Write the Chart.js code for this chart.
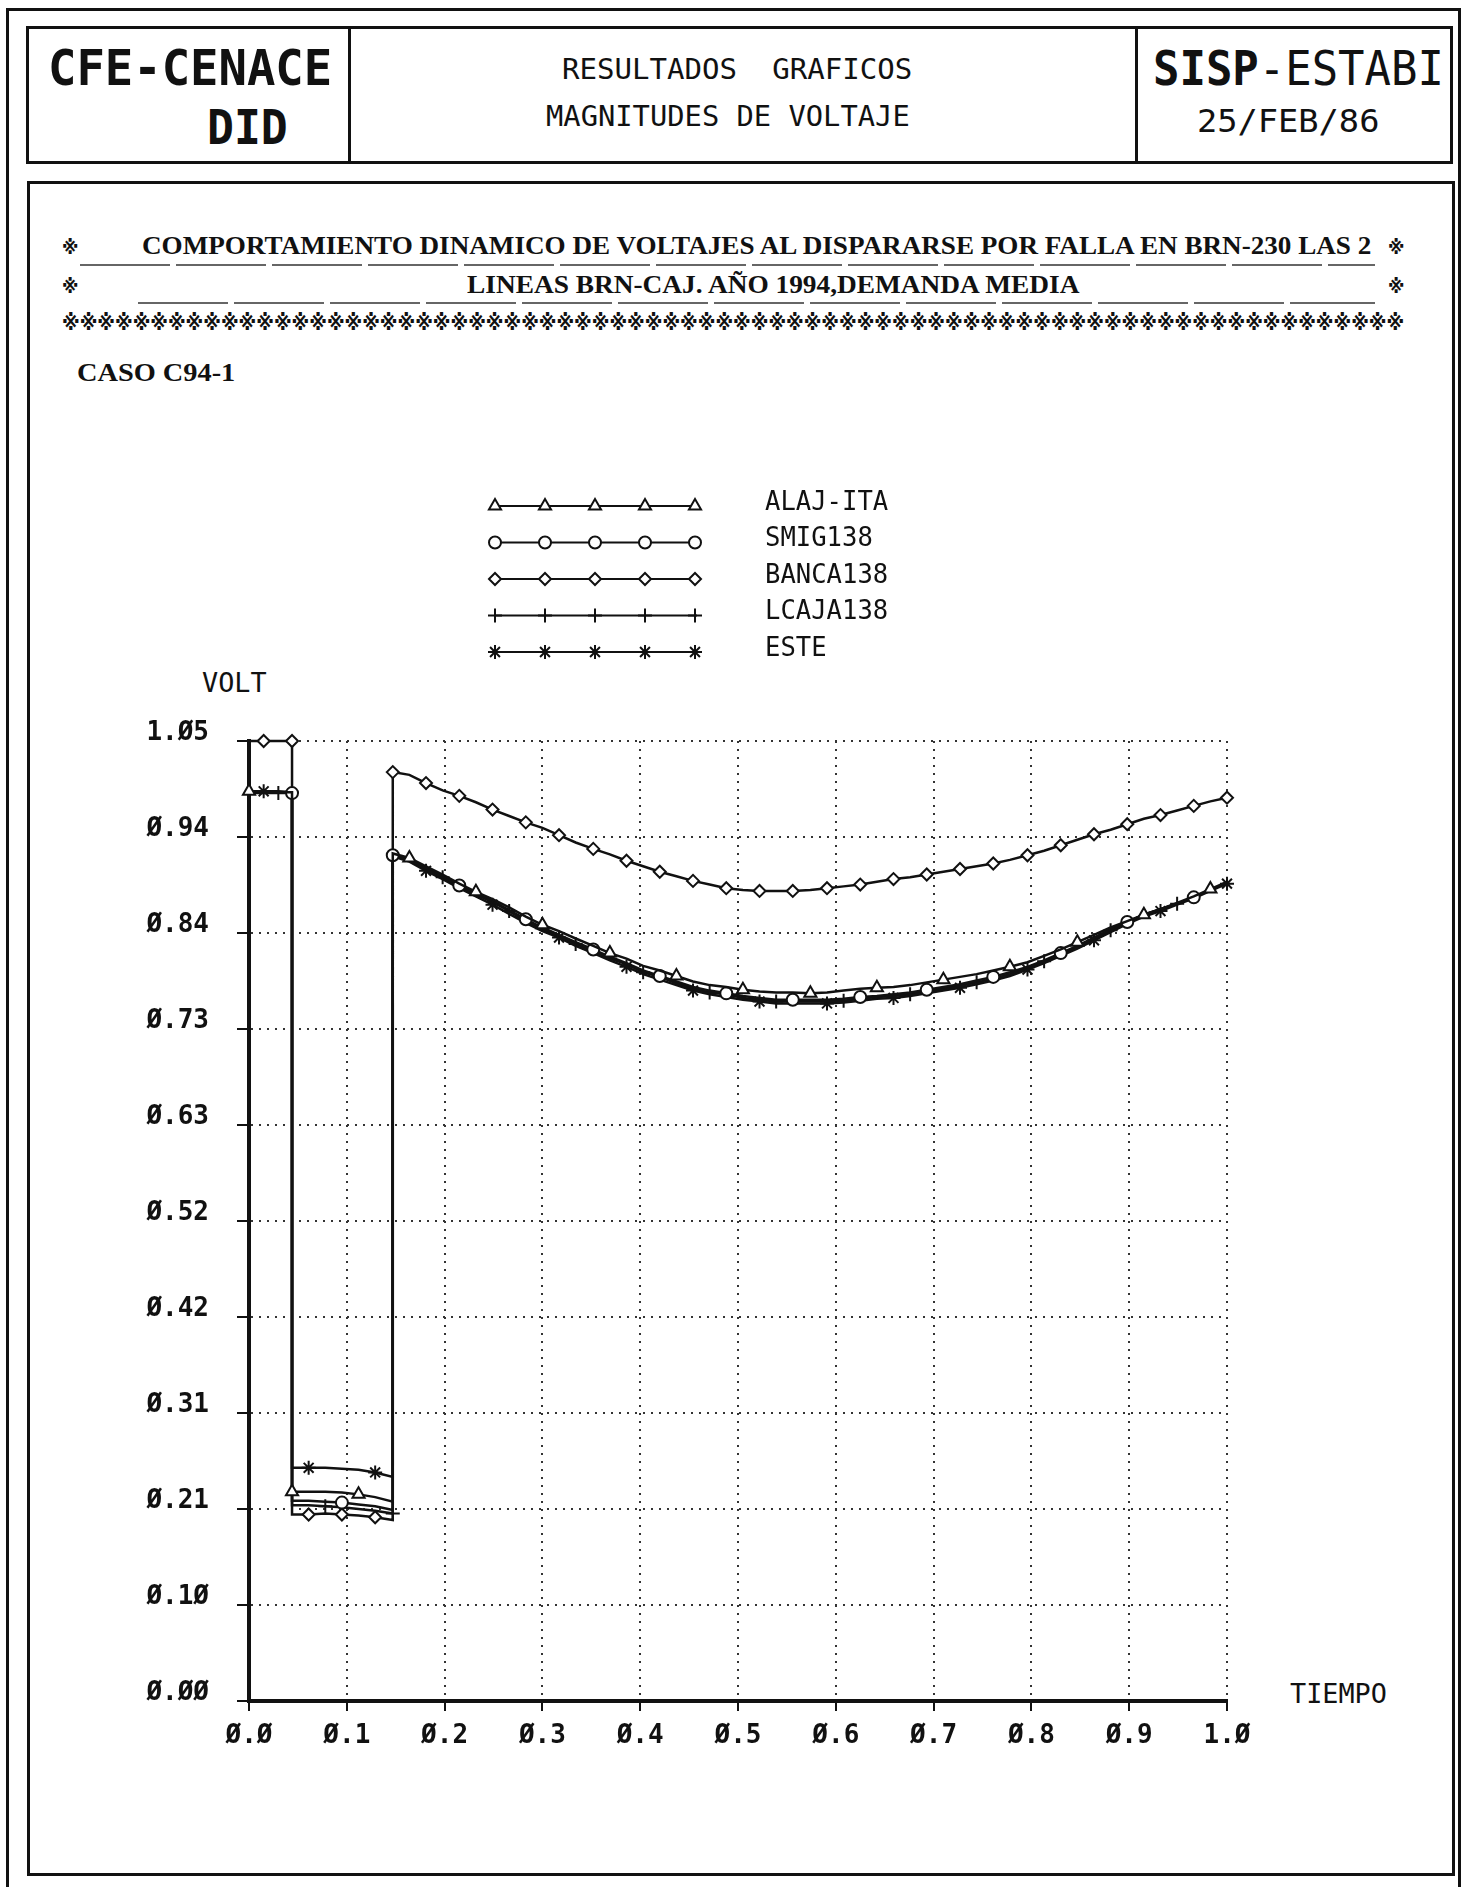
<!DOCTYPE html>
<html>
<head>
<meta charset="utf-8">
<title>Magnitudes de voltaje</title>
<script src="https://cdn.jsdelivr.net/npm/chart.js@4.4.1/dist/chart.umd.min.js"></script>
<style>
body { margin: 0; background: #fff; }
#page { position: relative; width: 1464px; height: 1887px; overflow: hidden; background: #fff; }
.box { position: absolute; border: 3px solid #111; box-sizing: border-box; }
.vl { position: absolute; width: 3px; background: #111; }
.ul { position: absolute; height: 1.5px; background: repeating-linear-gradient(90deg, #666 0 90px, transparent 90px 96px); }
.t { position: absolute; white-space: pre; color: #111; transform-origin: 0 50%; }
.mono { font-family: 'DejaVu Sans Mono', monospace; }
.serif { font-family: 'Liberation Serif', 'DejaVu Serif', serif; font-weight: bold; }
.mark { font-family: 'DejaVu Sans', 'Noto Sans CJK JP', sans-serif; font-weight: bold; }
canvas { position: absolute; left: 0; top: 0; }
</style>
</head>
<body>
<div id="page">
  <div class="box" style="left:6px;top:8px;width:1455px;height:1900px"></div>
  <div class="box" style="left:26px;top:26px;width:1427px;height:138px"></div>
  <div class="vl" style="left:348px;top:26px;height:138px"></div>
  <div class="vl" style="left:1135px;top:26px;height:138px"></div>
  <div class="box" style="left:27px;top:181px;width:1428px;height:1695px"></div>

  <div class="t mono" style="font-weight:bold" data-x="48" data-y="68" data-w="284" data-fs="50">CFE-CENACE</div>
  <div class="t mono" style="font-weight:bold" data-x="207" data-y="127" data-w="81" data-fs="48">DID</div>
  <div class="t mono" data-x="562" data-y="69" data-w="350" data-fs="29">RESULTADOS  GRAFICOS</div>
  <div class="t mono" data-x="546" data-y="116" data-w="364" data-fs="29">MAGNITUDES DE VOLTAJE</div>
  <div class="t mono" data-x="1153" data-y="68" data-w="291" data-fs="48"><b>SISP</b>-ESTABI</div>
  <div class="t mono" data-x="1197" data-y="121" data-w="182" data-fs="32">25/FEB/86</div>

  <div class="t mark" data-x="62" data-y="247" data-w="16" data-fs="20">※</div>
  <div class="t serif" data-x="142" data-y="246" data-w="1230" data-fs="26">COMPORTAMIENTO DINAMICO DE VOLTAJES AL DISPARARSE POR FALLA EN BRN-230 LAS 2</div>
  <div class="t mark" data-x="1388" data-y="247" data-w="16" data-fs="20">※</div>
  <div class="ul" style="left:80px;top:264px;width:1295px"></div>
  <div class="t mark" data-x="62" data-y="286" data-w="16" data-fs="20">※</div>
  <div class="t serif" data-x="467" data-y="285" data-w="612" data-fs="26">LINEAS BRN-CAJ. AÑO 1994,DEMANDA MEDIA</div>
  <div class="t mark" data-x="1388" data-y="286" data-w="16" data-fs="20">※</div>
  <div class="ul" style="left:138px;top:302px;width:1237px"></div>
  <div class="t mark" id="starRow" data-x="62" data-y="323" data-w="1343" data-fs="21"></div>
  <div class="t serif" data-x="77" data-y="373" data-w="158" data-fs="26">CASO C94-1</div>

  <div class="t mono" data-x="202" data-y="683" data-w="65" data-fs="26">VOLT</div>
  <div class="t mono" data-x="1290" data-y="1694" data-w="97" data-fs="26">TIEMPO</div>

  <canvas id="chart" width="1464" height="1887"></canvas>
</div>

<script>
// tiempo (s) -- prefalla, falla, postfalla
const times = [
  0.000, 0.015, 0.030, 0.044,
  0.044, 0.061, 0.078, 0.095, 0.112, 0.129, 0.147,
  0.147, 0.164, 0.181, 0.198, 0.215, 0.232, 0.249, 0.266, 0.283, 0.300,
  0.317, 0.334, 0.352, 0.369, 0.386, 0.403, 0.420, 0.437, 0.454, 0.471,
  0.488, 0.505, 0.522, 0.539, 0.556, 0.574, 0.591, 0.608, 0.625, 0.642,
  0.659, 0.676, 0.693, 0.710, 0.727, 0.744, 0.761, 0.778, 0.796, 0.813,
  0.830, 0.847, 0.864, 0.881, 0.898, 0.915, 0.932, 0.949, 0.966, 0.983,
  1.000
];

const alajIta = [
  0.995, 0.995, 0.994, 0.994,
  0.229, 0.229, 0.229, 0.228, 0.226, 0.223, 0.218,
  0.927, 0.922, 0.913, 0.904, 0.894, 0.885, 0.877, 0.868, 0.858, 0.849,
  0.842, 0.834, 0.826, 0.818, 0.812, 0.804, 0.799, 0.793, 0.787, 0.783,
  0.781, 0.778, 0.776, 0.775, 0.775, 0.774, 0.775, 0.777, 0.779, 0.780,
  0.781, 0.783, 0.786, 0.789, 0.792, 0.795, 0.799, 0.803, 0.808, 0.815,
  0.822, 0.830, 0.838, 0.846, 0.853, 0.860, 0.866, 0.873, 0.880, 0.888,
  0.896
];

const smig138 = [
  0.994, 0.994, 0.994, 0.993,
  0.219, 0.219, 0.218, 0.217, 0.215, 0.213, 0.209,
  0.925, 0.920, 0.911, 0.902, 0.892, 0.883, 0.875, 0.865, 0.855, 0.846,
  0.838, 0.830, 0.822, 0.814, 0.807, 0.799, 0.793, 0.787, 0.781, 0.777,
  0.774, 0.771, 0.769, 0.767, 0.767, 0.767, 0.767, 0.768, 0.770, 0.771,
  0.773, 0.775, 0.778, 0.781, 0.784, 0.788, 0.792, 0.797, 0.803, 0.810,
  0.818, 0.826, 0.835, 0.844, 0.852, 0.860, 0.866, 0.872, 0.879, 0.887,
  0.895
];

const banca138 = [
  1.050, 1.050, 1.050, 1.050,
  0.204, 0.204, 0.205, 0.204, 0.203, 0.201, 0.198,
  1.016, 1.013, 1.004, 0.996, 0.990, 0.983, 0.975, 0.968, 0.961, 0.955,
  0.947, 0.939, 0.932, 0.926, 0.919, 0.913, 0.907, 0.902, 0.897, 0.893,
  0.889, 0.887, 0.886, 0.886, 0.886, 0.887, 0.889, 0.891, 0.893, 0.896,
  0.899, 0.901, 0.904, 0.907, 0.910, 0.913, 0.916, 0.920, 0.925, 0.930,
  0.936, 0.942, 0.948, 0.953, 0.959, 0.965, 0.969, 0.974, 0.979, 0.984,
  0.988
];

const lcaja138 = [
  0.993, 0.993, 0.993, 0.993,
  0.214, 0.214, 0.213, 0.212, 0.210, 0.208, 0.205,
  0.926, 0.920, 0.910, 0.901, 0.891, 0.882, 0.874, 0.864, 0.853, 0.844,
  0.837, 0.828, 0.820, 0.812, 0.806, 0.797, 0.792, 0.785, 0.779, 0.775,
  0.773, 0.769, 0.767, 0.765, 0.765, 0.765, 0.765, 0.766, 0.768, 0.770,
  0.771, 0.773, 0.776, 0.779, 0.782, 0.786, 0.790, 0.795, 0.802, 0.809,
  0.817, 0.825, 0.834, 0.843, 0.852, 0.860, 0.866, 0.872, 0.879, 0.887,
  0.895
];

const este = [
  0.995, 0.995, 0.995, 0.994,
  0.255, 0.255, 0.255, 0.254, 0.253, 0.250, 0.245,
  0.924, 0.918, 0.908, 0.899, 0.889, 0.880, 0.871, 0.861, 0.851, 0.842,
  0.835, 0.826, 0.818, 0.810, 0.803, 0.795, 0.789, 0.783, 0.777, 0.773,
  0.770, 0.767, 0.765, 0.763, 0.763, 0.763, 0.763, 0.764, 0.766, 0.768,
  0.769, 0.771, 0.774, 0.777, 0.780, 0.784, 0.788, 0.793, 0.800, 0.807,
  0.815, 0.823, 0.832, 0.841, 0.850, 0.858, 0.864, 0.871, 0.878, 0.886,
  0.894
];

// etiquetas de los ejes, como salen del graficador
const voltTicks = ['Ø.ØØ', 'Ø.1Ø', 'Ø.21', 'Ø.31', 'Ø.42', 'Ø.52', 'Ø.63', 'Ø.73', 'Ø.84', 'Ø.94', '1.Ø5'];
const timeTicks = ['Ø.Ø', 'Ø.1', 'Ø.2', 'Ø.3', 'Ø.4', 'Ø.5', 'Ø.6', 'Ø.7', 'Ø.8', 'Ø.9', '1.Ø'];

// textos: ancho fijo como en la hoja original
document.getElementById('starRow').textContent = '※'.repeat(76);
document.querySelectorAll('.t').forEach(el => {
  const fs = parseFloat(el.dataset.fs);
  el.style.fontSize = fs + 'px';
  el.style.lineHeight = fs + 'px';
  el.style.left = el.dataset.x + 'px';
  el.style.top = (el.dataset.y - fs / 2) + 'px';
  const k = el.dataset.w / el.offsetWidth;
  el.style.transform = 'scaleX(' + k.toFixed(3) + ')';
});

function series(label, values, style, radius, every, offset) {
  return {
    label: label,
    data: times.map((t, i) => ({ x: t, y: values[i] })),
    borderColor: '#111',
    borderWidth: 2.5,
    tension: 0,
    clip: 10,
    pointStyle: style,
    pointBackgroundColor: '#fff',
    pointBorderColor: '#111',
    pointBorderWidth: 2,
    pointRadius: c => ((c.dataIndex + offset) % every === 0 ? radius : 0),
    markRadius: radius
  };
}

const datasets = [
  series('ALAJ-ITA', alajIta, 'triangle', 7, 4, 0),
  series('SMIG138', smig138, 'circle', 6, 4, 1),
  series('BANCA138', banca138, 'rectRot', 6, 2, 1),
  series('LCAJA138', lcaja138, 'cross', 7, 4, 2),
  series('ESTE', este, 'star', 7, 4, 3)
];

// leyenda: linea con 5 marcas y el nombre a la derecha
const legendRows = {
  id: 'legendRows',
  afterDraw(chart) {
    const ctx = chart.ctx;
    ctx.save();
    chart.data.datasets.forEach((ds, i) => {
      const y = 506 + i * 36.5;
      ctx.strokeStyle = '#111';
      ctx.lineWidth = 2;
      ctx.beginPath();
      ctx.moveTo(495, y);
      ctx.lineTo(697, y);
      ctx.stroke();
      for (let k = 0; k < 5; k++) {
        ctx.fillStyle = '#fff';
        ctx.strokeStyle = '#111';
        ctx.lineWidth = 2;
        Chart.helpers.drawPoint(ctx, { pointStyle: ds.pointStyle, radius: ds.markRadius, borderWidth: 2, rotation: 0 }, 495 + k * 50, y);
      }
      ctx.fillStyle = '#111';
      ctx.font = '26px "DejaVu Sans Mono", monospace';
      ctx.textBaseline = 'middle';
      ctx.textAlign = 'left';
      ctx.fillText(ds.label, 765, y - 3, 15.4 * ds.label.length);
    });
    ctx.restore();
  }
};

const tickFont = { family: 'DejaVu Sans Mono', size: 26, weight: 'bold' };

new Chart(document.getElementById('chart'), {
  type: 'line',
  data: { datasets: datasets },
  plugins: [legendRows],
  options: {
    responsive: false,
    animation: false,
    layout: { padding: { left: 0, top: 741, right: 237, bottom: 126 } },
    plugins: { legend: { display: false }, tooltip: { enabled: false } },
    scales: {
      x: {
        type: 'linear',
        min: 0,
        max: 1,
        afterFit: s => { s.height = 60; },
        ticks: { stepSize: 0.1, autoSkip: false, maxRotation: 0, padding: 10, font: tickFont, color: '#111',
          callback: (v, i) => timeTicks[i] },
        grid: { color: '#333', lineWidth: 2, tickLength: 10, tickColor: '#111', tickWidth: 2 },
        border: { color: '#111', width: 4, dash: [2, 6] }
      },
      y: {
        min: 0,
        max: 1.05,
        afterFit: s => { s.width = 249; },
        ticks: { stepSize: 0.105, autoSkip: false, padding: 28, labelOffset: -8, font: tickFont, color: '#111',
          callback: (v, i) => voltTicks[i] },
        grid: { color: '#333', lineWidth: 2, tickLength: 12, tickColor: '#111', tickWidth: 2 },
        border: { color: '#111', width: 4, dash: [2, 6] }
      }
    }
  }
});
</script>
</body>
</html>
